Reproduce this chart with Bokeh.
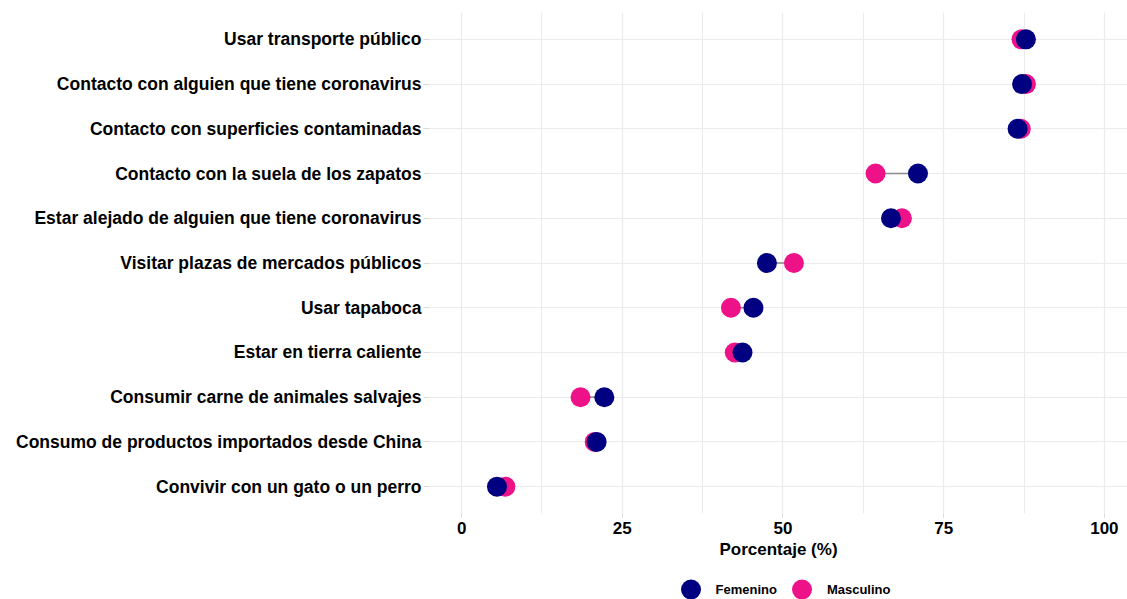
from bokeh.plotting import figure
from bokeh.layouts import column
from bokeh.models import (FactorRange, Range1d, FixedTicker, ColumnDataSource,
                          Legend, LegendItem)
from bokeh.embed import file_html
from bokeh.resources import INLINE

categories = [
    "Usar transporte público",
    "Contacto con alguien que tiene coronavirus",
    "Contacto con superficies contaminadas",
    "Contacto con la suela de los zapatos",
    "Estar alejado de alguien que tiene coronavirus",
    "Visitar plazas de mercados públicos",
    "Usar tapaboca",
    "Estar en tierra caliente",
    "Consumir carne de animales salvajes",
    "Consumo de productos importados desde China",
    "Convivir con un gato o un perro",
]
femenino = [87.8, 87.2, 86.5, 71.0, 66.8, 47.5, 45.4, 43.7, 22.2, 21.0, 5.5]
masculino = [87.1, 87.8, 87.0, 64.4, 68.5, 51.7, 41.9, 42.5, 18.5, 20.7, 6.8]
x_ticks = [0, 25, 50, 75, 100]
x_minor = [12.5, 37.5, 62.5, 87.5]
series_names = ["Femenino", "Masculino"]

FONT = "Liberation Sans"
NAVY = "#000080"
PINK = "#EE1289"
GRID = "#EBEBEB"

src = ColumnDataSource(dict(cat=categories, f=femenino, m=masculino))

yr = FactorRange(factors=list(reversed(categories)),
                 range_padding=0.1, range_padding_units="absolute")
xr = Range1d(-5, 103.6)

p = figure(width=1127, height=563, y_range=yr, x_range=xr,
           output_backend="svg", toolbar_location=None,
           min_border_left=429, min_border_right=0, min_border_top=12,
           min_border_bottom=50)
p.outline_line_color = None
p.background_fill_color = "white"
p.border_fill_color = "white"

p.segment(x0="f", y0="cat", x1="m", y1="cat", source=src,
          line_color="#8C8C8C", line_width=1.6)
rm = p.scatter(x="m", y="cat", source=src, size=20, color=PINK, line_color=None)
rf = p.scatter(x="f", y="cat", source=src, size=20, color=NAVY, line_color=None)

# x axis
xa = p.xaxis[0]
xa.ticker = FixedTicker(ticks=x_ticks, minor_ticks=x_minor)
xa.axis_line_color = None
xa.major_tick_line_color = "#D9D9D9"
xa.major_tick_out = 4
xa.major_tick_in = 0
xa.minor_tick_line_color = None
xa.major_label_text_font = FONT
xa.major_label_text_font_style = "bold"
xa.major_label_text_font_size = "17px"
xa.major_label_text_color = "black"
xa.major_label_standoff = 4
xa.axis_label = "Porcentaje (%)"
xa.axis_label_text_font = FONT
xa.axis_label_text_font_style = "bold"
xa.axis_label_text_font_size = "17px"
xa.axis_label_text_color = "black"
xa.axis_label_standoff = 3

# y axis
ya = p.yaxis[0]
ya.axis_line_color = None
ya.major_tick_line_color = "#D9D9D9"
ya.major_tick_out = 6
ya.major_tick_in = 0
ya.major_label_text_font = FONT
ya.major_label_text_font_style = "bold"
ya.major_label_text_font_size = "17.5px"
ya.major_label_text_color = "black"
ya.major_label_standoff = 2

# grids
p.xgrid.grid_line_color = GRID
p.xgrid.grid_line_width = 1.2
p.xgrid.minor_grid_line_color = GRID
p.xgrid.minor_grid_line_width = 1.0
p.ygrid.grid_line_color = GRID
p.ygrid.grid_line_width = 1.2

# legend strip below the chart (same horizontal frame as the chart)
lg = figure(width=1127, height=36, y_range=FactorRange(factors=list(reversed(categories))),
            x_range=Range1d(-5, 103.6), output_backend="svg", toolbar_location=None,
            x_axis_type=None, y_axis_type=None,
            min_border_left=429, min_border_right=0, min_border_top=16, min_border_bottom=0)
lg.outline_line_color = None
lg.xgrid.visible = False
lg.ygrid.visible = False
lf = lg.scatter(x="f", y="cat", source=src, size=20, color=NAVY, line_color=None, visible=False)
lm = lg.scatter(x="m", y="cat", source=src, size=20, color=PINK, line_color=None, visible=False)

legend = Legend(items=[LegendItem(label=series_names[0], renderers=[lf]),
                       LegendItem(label=series_names[1], renderers=[lm])],
                orientation="horizontal", location="center",
                glyph_width=50, glyph_height=50, label_standoff=-5, spacing=-7,
                padding=0, margin=0, border_line_color=None,
                background_fill_alpha=0,
                label_text_font=FONT, label_text_font_style="bold",
                label_text_font_size="13px", label_text_color="black")
lg.add_layout(legend, "center")

layout = column(p, lg, spacing=0)
open("out.html", "w").write(file_html(layout, INLINE))
